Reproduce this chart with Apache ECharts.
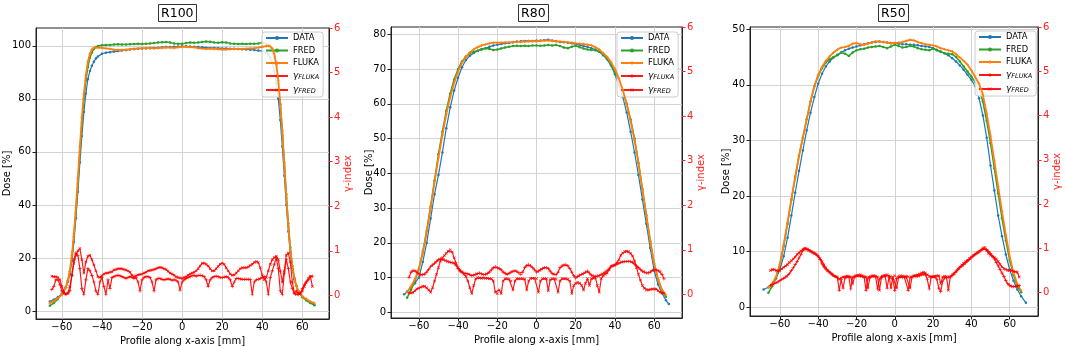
<!DOCTYPE html>
<html><head><meta charset="utf-8">
<script src="https://cdn.jsdelivr.net/npm/echarts@6/dist/echarts.min.js"></script>
<style>html,body{margin:0;padding:0;background:#fff}#c{width:1065px;height:346px}</style>
</head><body><div id="c"></div>
<script>
// ---------- DATA ----------
const titles = ['R100', 'R80', 'R50'];
const seriesNames = ['DATA', 'FRED', 'FLUKA', 'γFLUKA', 'γFRED'];
const xTicks = [-60, -40, -20, 0, 20, 40, 60];
const doseTicks1 = [0, 20, 40, 60, 80, 100];
const doseTicks2 = [0, 10, 20, 30, 40, 50, 60, 70, 80];
const doseTicks3 = [0, 10, 20, 30, 40, 50];
const gammaTicks = [0, 1, 2, 3, 4, 5, 6];

// R100 dose profile positions [mm]
const xP1 = [-66,-64,-62,-60,-58,
  -57,-56,-55,-54,-53,-52,-51,-50,-49,-48,-47,-46,-45,-44,-43,-42,
  -40,-38,-36,-34,-32,-30,-28,-26,-24,-22,-20,-18,-16,-14,-12,-10,-8,-6,-4,-2,0,2,4,6,8,10,12,14,16,18,20,22,24,26,28,30,32,34,36,38,40,
  42,43,44,45,46,47,48,49,50,51,52,53,54,55,56,57,58,
  60,62,64,66];
const p1Data = [3.6,4.3,5.2,6.5,9.0,
  11,14,19,26,35,45,56,66,75,82,87.5,90.5,92.5,94,95.2,96,
  97,97.4,97.6,97.8,98,98.2,98.4,98.6,98.8,98.9,99,99,99.1,99.2,99.3,99.4,99.5,99.5,99.6,99.7,99.8,99.8,99.7,99.6,99.5,99.4,99.3,99.2,99.2,99.1,99,99,98.9,98.9,98.8,98.7,98.6,98.5,98.4,98.2,98.0,
  97.4,96.8,95.5,93.5,90.5,86,80,72,62,51,40,30,22,16,12,9.5,7.5,
  5.5,4.3,3.2,2.4];
const p1Fred = [2.0,3.0,4.5,6.3,9.0,
  11.5,15,20,28,37,48,60,71,80,87,92,95.5,97.5,98.8,99.5,99.9,
  100.2,100.3,100.3,100.5,100.6,100.5,100.5,100.6,100.7,100.8,100.7,100.8,100.9,101.0,101.2,101.3,101.4,101.2,100.9,100.8,100.8,101.0,101.2,101.1,101.2,101.4,101.6,101.5,101.2,101.1,101.3,101.2,100.9,100.8,100.7,100.8,100.7,100.8,100.8,100.9,101.2,
  100.8,100.3,99.3,97.8,95.5,92,86,78,68,56,44,33,24,17,12.5,9.5,7.5,
  5.2,4.0,3.0,2.2];
const p1Fluka = [3.0,3.8,4.8,6.2,9.0,
  11.5,15,21,29,39,50,62,73,82,89,94,97,98.6,99.3,99.4,99.3,
  99.2,99.0,98.8,98.5,98.4,98.4,98.5,98.7,98.8,99.0,99.0,99.1,99.1,99.0,99.1,99.2,99.3,99.3,99.2,99.4,99.6,99.6,99.5,99.4,99.1,98.9,98.8,98.9,98.8,98.7,98.6,98.6,98.7,98.8,98.8,98.8,98.9,99.0,99.1,99.3,99.6,
  99.9,100,99.8,99,97,93,87,78,67,55,43,32,23,17,12.5,9.5,7.5,
  5.5,4.5,3.6,3.0];

// R80 dose profile positions [mm]
const xP2 = [-67.5,
  -66,-64,-62,-60,-58,-56,-54,-52,-50,-48,
  -46,-44,-42,-40,-38,-36,-34,-32,-30,-28,
  -26,-24,-22,-20,-18,-16,-14,-12,-10,-8,
  -6,-4,-2,0,2,4,6,8,10,12,
  14,16,18,20,22,24,26,28,30,32,
  34,36,38,40,42,44,46,48,50,52,
  54,56,58,60,62,64,66,
  67.5];
const p2Data = [5.2,
  6,7.2,8.4,10,14.5,20,27,34,39.5,46,
  53,59,63.8,67.5,70.5,72.6,73.8,74.6,75.2,75.6,
  76,76.4,76.8,77,77.2,77.4,77.5,77.7,77.9,78,
  78.1,78.1,78.1,78.2,78.2,78.3,78.4,78.2,78,77.8,
  77.7,77.6,77.4,77.2,76.9,76.6,76.4,76,75.6,75,
  74,72.8,71,68.5,65.5,62,57.5,52,46,39.5,
  32.5,25.5,18.5,12,8,5.5,3.5,
  2.4];
const p2Fred = [null,
  4.2,6.5,9,12.5,17.5,23.5,30.5,38,45.5,52,
  58,63,67,70,72.2,73.6,74.5,75,75.3,75.8,
  76,75.8,75.5,75.6,75.9,76.2,76.4,76.6,76.7,76.6,
  76.7,76.6,76.8,76.8,76.7,76.8,76.9,76.8,76.9,76.6,
  76.2,76,76.4,76.7,76.3,75.9,75.6,75.5,75.4,75,
  74.2,73,71.3,69,66.5,63.5,60,55.5,50,43,
  35.5,28,20.5,14,9.5,6.3,4.5,
  null];
const p2Fluka = [null,
  5.8,7.5,9.5,12.5,17,23,30,37.5,44.5,51,
  57,62,66,69.3,71.8,73.5,74.8,75.7,76.3,76.8,
  77.1,77.4,77.6,77.6,77.6,77.7,77.7,77.8,77.8,77.8,
  77.9,78,78,78,78.1,78.2,78.2,78.1,78,77.9,
  77.8,77.7,77.6,77.4,77.3,77.2,77,76.8,76.3,75.6,
  74.6,73.5,72,70,67.3,64,60,55,49.5,43,
  35.5,28,20.5,14,9.5,6.5,5,
  null];

// R50 dose profile positions [mm]
const xP3 = [-68.5,
  -66,-64,-62,-60,-58,-56,-54,-52,-50,-48,
  -46,-44,-42,-40,-38,-36,-34,-32,-30,-28,
  -26,-24,-22,-20,-18,-16,-14,-12,-10,-8,
  -6,-4,-2,0,2,4,6,8,10,12,
  14,16,18,20,22,24,26,28,30,32,
  34,36,38,40,42,44,46,48,50,52,
  54,56,58,60,62,64,66,
  68.5];
const p3Data = [3.2,
  3.6,4.2,5.2,6.8,9.2,12.5,16.5,20.6,24.5,28.2,
  31.8,35,37.8,40.2,42,43.3,44.2,44.9,45.4,45.8,
  46.2,46.5,46.7,46.9,47.1,47.3,47.5,47.6,47.7,47.8,
  47.7,47.6,47.5,47.5,47.4,47.3,47.3,47.2,47.2,47.1,
  47.0,46.9,46.8,46.6,46.3,46.0,45.7,45.3,44.8,44.2,
  43.5,42.7,41.8,40.9,39.8,37.6,34.5,30.5,25.5,21,
  16.5,12.8,9.5,6.8,4.8,3.2,2,
  0.8];
const p3Fred = [null,
  2.6,3.8,5.3,7.6,11,15,19.3,23.3,27.2,30.5,
  33.8,37,39.7,41.6,43,44,44.6,45,45.3,45.8,
  45.6,45.2,45.8,46.2,46.4,46.5,46.7,46.8,46.9,47,
  46.8,46.6,46.9,47.2,47,46.7,46.8,47,46.9,46.6,
  46.4,46.3,46.2,46.5,46.2,45.9,45.7,45.6,45.5,45,
  44.2,43.3,42.4,41.5,40.5,39.3,37,33.5,29.5,25,
  20.5,16,12,8.5,5.8,3.8,2.7,
  null];
const p3Fluka = [null,
  3.5,4.3,5.5,7.8,11.3,15.3,19.5,23.5,27.3,30.5,
  33.8,37,39.8,41.8,43.2,44.3,45.1,45.8,46.3,46.7,
  46.8,47,47.4,47.5,47.3,47.2,47.4,47.6,47.8,47.8,
  47.7,47.6,47.5,47.5,47.6,47.7,47.9,48.1,48,47.7,
  47.5,47.3,47.2,47.1,46.9,46.6,46.4,46.2,46,45.5,
  44.9,44.3,43.6,42.6,41.4,40.2,38.3,34.8,30.8,26.3,
  21.7,17.2,13,9.2,6.2,4.2,3,
  null];

// gamma-index evaluation positions [mm]
const xG = [-65,-64,-63,-62,-61,-60,-59,-58,-57,-56,
  -55,-54,-53,-52,-51,-50,-49,-48,-47,-46,
  -45,-44,-43,-42,-41,-40,-39,-38,-37,-36,
  -35,-34,-33,-32,-31,-30,-29,-28,-27,-26,
  -25,-24,-23,-22,-21,-20,-19,-18,-17,-16,
  -15,-14,-13,-12,-11,-10,-9,-8,-7,-6,
  -5,-4,-3,-2,-1,0,1,2,3,4,
  5,6,7,8,9,10,11,12,13,14,
  15,16,17,18,19,20,21,22,23,24,
  25,26,27,28,29,30,31,32,33,34,
  35,36,37,38,39,40,41,42,43,44,
  45,46,47,48,49,50,51,52,53,54,
  55,56,57,58,59,60,61,62,63,64,
  65];
const p1GammaFred = [0.43,0.42,0.42,0.40,0.35,0.20,0.08,0.03,0.05,0.20,
  0.45,0.72,0.90,1.00,1.05,0.80,0.50,0.75,0.88,0.90,
  0.80,0.68,0.55,0.42,0.40,0.44,0.48,0.50,0.50,0.52,
  0.53,0.57,0.58,0.60,0.60,0.60,0.58,0.57,0.55,0.52,
  0.45,0.42,0.44,0.46,0.47,0.48,0.50,0.52,0.55,0.56,
  0.57,0.58,0.60,0.62,0.63,0.62,0.60,0.58,0.54,0.50,
  0.48,0.45,0.42,0.40,0.39,0.38,0.40,0.42,0.45,0.48,
  0.50,0.52,0.55,0.60,0.66,0.72,0.72,0.70,0.66,0.60,
  0.55,0.55,0.60,0.65,0.70,0.72,0.70,0.62,0.55,0.48,
  0.45,0.46,0.50,0.55,0.60,0.62,0.62,0.62,0.64,0.67,
  0.70,0.74,0.76,0.74,0.62,0.45,0.35,0.40,0.55,0.70,
  0.80,0.85,0.88,0.80,0.55,0.30,0.55,0.90,0.95,0.75,
  0.30,0.05,0.02,0.05,0.05,0.10,0.20,0.30,0.38,0.43,
  0.20];
const p1GammaFluka = [0.13,0.20,0.35,0.35,0.25,0.10,0.05,0.02,0.05,0.10,
  0.45,0.80,0.95,0.90,0.60,0.15,0.02,0.35,0.60,0.55,
  0.45,0.30,0.10,0.02,0.30,0.40,0.20,0.02,0.35,0.15,
  0.40,0.42,0.44,0.45,0.44,0.42,0.40,0.38,0.40,0.42,
  0.40,0.38,0.40,0.30,0.10,0.35,0.40,0.42,0.42,0.40,
  0.30,0.10,0.35,0.38,0.38,0.36,0.35,0.36,0.37,0.36,
  0.34,0.35,0.34,0.30,0.12,0.30,0.35,0.38,0.40,0.42,
  0.44,0.45,0.43,0.45,0.45,0.44,0.42,0.35,0.20,0.35,
  0.40,0.42,0.43,0.42,0.40,0.40,0.41,0.42,0.40,0.35,
  0.20,0.30,0.38,0.38,0.37,0.36,0.36,0.36,0.36,0.36,
  0.02,0.30,0.35,0.36,0.38,0.40,0.42,0.30,0.02,0.40,
  0.55,0.70,0.84,0.60,0.10,0.02,0.50,0.80,0.60,0.30,
  0.15,0.05,0.10,0.02,0.05,0.15,0.25,0.30,0.35,0.42,
  0.43];
const p2GammaFluka = [0.38,0.50,0.54,0.53,0.50,0.46,0.43,0.44,0.45,0.50,
  0.56,0.62,0.66,0.70,0.74,0.78,0.80,0.79,0.77,0.75,
  0.73,0.72,0.71,0.70,0.65,0.58,0.52,0.50,0.48,0.47,
  0.46,0.44,0.42,0.43,0.45,0.47,0.48,0.46,0.44,0.45,
  0.47,0.50,0.55,0.60,0.62,0.60,0.58,0.55,0.50,0.47,
  0.45,0.47,0.50,0.52,0.53,0.52,0.48,0.45,0.50,0.60,
  0.65,0.67,0.64,0.60,0.55,0.50,0.52,0.55,0.58,0.60,
  0.60,0.58,0.52,0.47,0.45,0.44,0.50,0.60,0.64,0.66,
  0.67,0.64,0.58,0.50,0.42,0.37,0.40,0.43,0.45,0.47,
  0.50,0.52,0.48,0.43,0.41,0.40,0.41,0.42,0.45,0.47,
  0.50,0.53,0.57,0.62,0.64,0.66,0.68,0.70,0.72,0.73,
  0.74,0.74,0.74,0.74,0.72,0.68,0.64,0.60,0.56,0.52,
  0.50,0.48,0.48,0.50,0.54,0.56,0.55,0.53,0.52,0.45,
  0.35];
const p2GammaFred = [0.03,0.03,0.04,0.08,0.12,0.14,0.16,0.18,0.18,0.15,
  0.10,0.05,0.15,0.30,0.45,0.60,0.75,0.82,0.87,0.92,
  0.97,1.00,0.95,0.82,0.70,0.60,0.55,0.50,0.45,0.40,
  0.30,0.15,0.02,0.20,0.35,0.38,0.37,0.36,0.37,0.36,
  0.36,0.35,0.35,0.30,0.05,0.02,0.10,0.02,0.30,0.35,
  0.35,0.34,0.30,0.10,0.30,0.35,0.35,0.35,0.35,0.34,
  0.10,0.30,0.36,0.36,0.36,0.35,0.05,0.30,0.35,0.35,
  0.35,0.08,0.33,0.35,0.35,0.34,0.05,0.30,0.35,0.35,
  0.35,0.34,0.30,0.02,0.20,0.25,0.27,0.25,0.20,0.10,
  0.25,0.35,0.20,0.35,0.36,0.38,0.20,0.05,0.35,0.42,
  0.45,0.48,0.55,0.63,0.65,0.66,0.70,0.78,0.88,0.93,
  0.96,0.97,0.96,0.92,0.86,0.75,0.60,0.45,0.32,0.20,
  0.14,0.10,0.10,0.11,0.12,0.12,0.12,0.08,0.05,0.03,
  0.03];
const p3GammaFluka = [0.16,0.18,0.20,0.22,0.24,0.27,0.30,0.32,0.35,0.38,
  0.43,0.50,0.56,0.63,0.70,0.78,0.86,0.95,0.99,0.99,
  0.97,0.94,0.91,0.89,0.86,0.82,0.75,0.65,0.58,0.53,
  0.49,0.46,0.42,0.39,0.36,0.34,0.05,0.30,0.10,0.33,
  0.35,0.36,0.08,0.34,0.37,0.38,0.38,0.37,0.36,0.35,
  0.05,0.33,0.36,0.37,0.37,0.36,0.08,0.30,0.36,0.38,
  0.37,0.10,0.35,0.36,0.30,0.05,0.32,0.36,0.35,0.34,
  0.35,0.36,0.05,0.34,0.36,0.37,0.36,0.37,0.38,0.40,
  0.42,0.40,0.30,0.08,0.35,0.36,0.35,0.30,0.10,0.02,
  0.25,0.33,0.34,0.35,0.36,0.38,0.42,0.48,0.52,0.56,
  0.60,0.63,0.67,0.71,0.75,0.79,0.83,0.86,0.89,0.92,
  0.95,0.98,1.00,0.97,0.93,0.88,0.82,0.76,0.68,0.60,
  0.52,0.44,0.36,0.27,0.20,0.16,0.14,0.13,0.14,0.15,
  0.16];
const p3GammaFred = [0.50,0.52,0.52,0.50,0.48,0.50,0.54,0.57,0.60,0.63,
  0.68,0.72,0.76,0.80,0.86,0.90,0.94,0.98,1.00,0.98,
  0.95,0.93,0.91,0.88,0.86,0.82,0.77,0.70,0.63,0.56,
  0.50,0.46,0.42,0.38,0.36,0.35,0.30,0.33,0.35,0.36,
  0.37,0.36,0.35,0.20,0.35,0.38,0.39,0.40,0.38,0.36,
  0.35,0.10,0.34,0.37,0.38,0.37,0.35,0.05,0.33,0.37,
  0.39,0.40,0.38,0.10,0.35,0.38,0.10,0.35,0.38,0.37,
  0.36,0.35,0.36,0.10,0.35,0.38,0.39,0.40,0.42,0.44,
  0.46,0.44,0.40,0.36,0.35,0.36,0.37,0.38,0.38,0.20,
  0.35,0.37,0.36,0.05,0.35,0.40,0.43,0.47,0.53,0.58,
  0.62,0.66,0.70,0.73,0.77,0.80,0.84,0.87,0.90,0.93,
  0.96,1.00,1.02,0.95,0.88,0.84,0.82,0.80,0.76,0.70,
  0.64,0.58,0.54,0.52,0.50,0.50,0.50,0.48,0.47,0.46,
  0.35];

// ---------- CHART ----------
const FONT = 'DejaVu Sans';
const PLUS = 'path://M4,0H6V4H10V6H6V10H4V6H0V4H4Z';
const RED = 'rgba(255,0,0,0.9)';
const panels = [
  {x: xP1, data: p1Data, fred: p1Fred, fluka: p1Fluka, gF: p1GammaFluka, gR: p1GammaFred, yt: doseTicks1, doseGap: 24,
   grid: {left: 36, top: 28, width: 293, height: 291}, xr: [-72.9, 73.3], yr: [-3.0, 106.7], legend: {left: 262, top: 32}, title: 158},
  {x: xP2, data: p2Data, fred: p2Fred, fluka: p2Fluka, gF: p2GammaFluka, gR: p2GammaFred, yt: doseTicks2, doseGap: 16.5,
   grid: {left: 391, top: 27, width: 291, height: 291}, xr: [-74.2, 74.2], yr: [-1.6, 82.1], legend: {left: 617, top: 32}, title: 518},
  {x: xP3, data: p3Data, fred: p3Fred, fluka: p3Fluka, gF: p3GammaFluka, gR: p3GammaFred, yt: doseTicks3, doseGap: 19,
   grid: {left: 750, top: 27, width: 288, height: 289}, xr: [-75.6, 74.8], yr: [-1.56, 50.4], legend: {left: 975, top: 31}, title: 878}
];
function pairs(xs, ys) {
  const out = [];
  for (let i = 0; i < xs.length; i++) if (ys[i] != null) out.push([xs[i], ys[i]]);
  return out;
}
const minus = v => (v < 0 ? '\u2212' + Math.abs(v) : String(v));
const option = {animation: false, backgroundColor: '#fff', title: [], grid: [], xAxis: [], yAxis: [], legend: [], series: []};
panels.forEach((p, i) => {
  option.title.push({text: titles[i], left: p.title, top: 4, padding: [3, 3, 2, 3], borderWidth: 1, borderColor: '#333', backgroundColor: '#fff',
    textStyle: {fontSize: 12.5, fontWeight: 'normal', fontFamily: FONT, color: '#000'}});
  option.grid.push(Object.assign({show: true, borderColor: '#222', borderWidth: 1, backgroundColor: 'transparent',
    containLabel: false, outerBoundsMode: 'none'}, p.grid));
  option.xAxis.push({type: 'value', gridIndex: i, min: p.xr[0], max: p.xr[1],
    name: 'Profile along x-axis [mm]', nameLocation: 'middle', nameGap: 17, nameMoveOverlap: false,
    nameTextStyle: {fontSize: 10, fontFamily: FONT, color: '#000'},
    axisLine: {show: true, onZero: false, lineStyle: {color: '#222'}},
    axisTick: {show: true, length: 3.5, customValues: xTicks, lineStyle: {color: '#222'}},
    axisLabel: {customValues: xTicks, formatter: minus, fontSize: 10, fontFamily: FONT, color: '#000', margin: 3},
    splitLine: {show: true, lineStyle: {color: '#d3d3d3', width: 1}}});
  option.yAxis.push({type: 'value', gridIndex: i, position: 'left', min: p.yr[0], max: p.yr[1],
    name: 'Dose [%]', nameLocation: 'middle', nameGap: p.doseGap, nameRotate: 90, nameMoveOverlap: false,
    nameTextStyle: {fontSize: 10, fontFamily: FONT, color: '#000'},
    axisLine: {show: true, onZero: false, lineStyle: {color: '#222'}},
    axisTick: {show: true, length: 3.5, customValues: p.yt, lineStyle: {color: '#222'}},
    axisLabel: {customValues: p.yt, fontSize: 10, fontFamily: FONT, color: '#000', margin: 5},
    splitLine: {show: true, lineStyle: {color: '#d3d3d3', width: 1}}});
  option.yAxis.push({type: 'value', gridIndex: i, position: 'right', min: -0.53, max: 6.0,
    name: 'γ-index', nameLocation: 'middle', nameGap: 14, nameRotate: 90, nameMoveOverlap: false,
    nameTextStyle: {fontSize: 10, fontFamily: FONT, color: '#ff2020'},
    axisLine: {show: true, onZero: false, lineStyle: {color: '#222'}},
    axisTick: {show: true, length: 3.5, customValues: gammaTicks, lineStyle: {color: '#ff2020'}},
    axisLabel: {customValues: gammaTicks, fontSize: 10, fontFamily: FONT, color: '#ff2020', margin: 5},
    splitLine: {show: false}});
  option.legend.push({left: p.legend.left, top: p.legend.top, orient: 'vertical', itemWidth: 22, itemHeight: 5, itemGap: 4.5,
    padding: [2, 4, 2, 3], backgroundColor: 'rgba(255,255,255,0.85)', borderColor: '#ccc', borderWidth: 1, borderRadius: 3,
    data: seriesNames, selectedMode: false,
    formatter: n => (n === 'γFLUKA' ? '{g|γ}{s|FLUKA}' : n === 'γFRED' ? '{g|γ}{s|FRED}' : n),
    textStyle: {fontSize: 8.3, fontFamily: FONT, color: '#000',
      rich: {g: {fontSize: 9, fontStyle: 'italic', fontFamily: FONT, color: '#000'},
             s: {fontSize: 6.5, fontStyle: 'italic', fontFamily: FONT, color: '#000', padding: [3, 0, 0, 0]}}}});
  const yL = 2 * i, yR = 2 * i + 1;
  option.series.push(
    {name: 'DATA', type: 'line', xAxisIndex: i, yAxisIndex: yL, data: pairs(p.x, p.data), symbol: 'circle', symbolSize: 2.5,
     lineStyle: {color: '#1f77b4', width: 1.2}, itemStyle: {color: '#1f77b4'}, z: 2},
    {name: 'FRED', type: 'line', xAxisIndex: i, yAxisIndex: yL, data: pairs(p.x, p.fred), symbol: 'circle', symbolSize: 2.5,
     lineStyle: {color: '#2ca02c', width: 1.5}, itemStyle: {color: '#2ca02c'}, z: 3},
    {name: 'FLUKA', type: 'line', xAxisIndex: i, yAxisIndex: yL, data: pairs(p.x, p.fluka), symbol: PLUS, symbolSize: 3,
     lineStyle: {color: '#ff7f0e', width: 1.8}, itemStyle: {color: '#ff7f0e'}, z: 4},
    {name: 'γFLUKA', type: 'line', xAxisIndex: i, yAxisIndex: yR, data: pairs(xG, p.gF), symbol: PLUS, symbolSize: 3.5,
     lineStyle: {color: RED, width: 1.2}, itemStyle: {color: RED}, z: 5},
    {name: 'γFRED', type: 'line', xAxisIndex: i, yAxisIndex: yR, data: pairs(xG, p.gR), symbol: PLUS, symbolRotate: 45, symbolSize: 3.5,
     lineStyle: {color: RED, width: 1.2}, itemStyle: {color: RED}, z: 5}
  );
});
const chart = echarts.init(document.getElementById('c'), null, {renderer: 'canvas', width: 1065, height: 346});
chart.setOption(option);
</script>
</body></html>
